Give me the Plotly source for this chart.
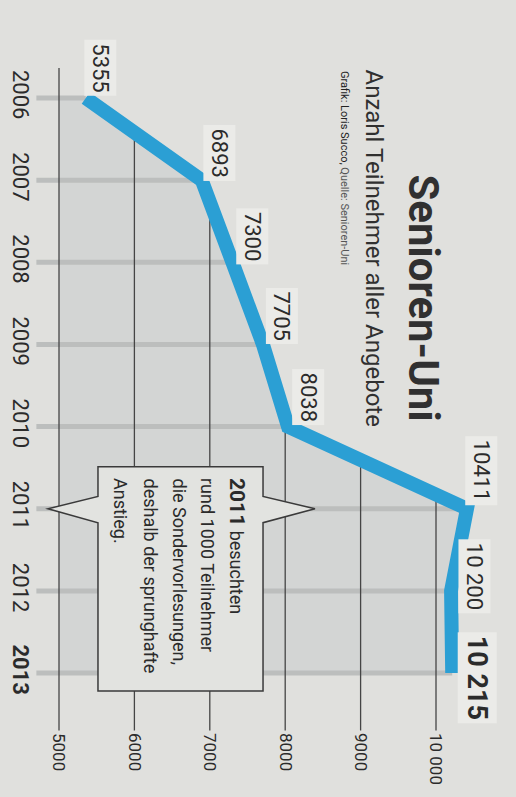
import numpy as np
import plotly.graph_objects as go

# ---------------- data ----------------
years = [2006, 2007, 2008, 2009, 2010, 2011, 2012, 2013]
values = [5355, 6893, 7300, 7705, 8038, 10411, 10200, 10215]
value_labels = ["5355", "6893", "7300", "7705", "8038", "10411", "10 200", "<b>10 215</b>"]
year_labels = ["2006", "2007", "2008", "2009", "2010", "2011", "2012", "<b>2013</b>"]
x_ticks = [5000, 6000, 7000, 8000, 9000, 10000]
x_tick_labels = ["5000", "6000", "7000", "8000", "9000", "10 000"]

title = "Senioren-Uni"
subtitle = "Anzahl Teilnehmer aller Angebote"
credit = "Grafik: Loris Succo, <span style='color:#555'>Quelle: Senioren-Uni</span>"
note_year = 2011
note_lines = ["<span style='font-size:21px'><b>2011</b></span> besuchten",
              "rund 1000 Teilnehmer",
              "die Sondervorlesungen,",
              "deshalb der sprunghafte",
              "Anstieg."]

# ---------------- style / layout ----------------
FONT = "Roboto, Liberation Sans, sans-serif"
PAPER = "#e0e0dd"
AREA = "#d3d5d4"
YEARLINE = "#bcbebd"
GRID = "#454545"
BLUE = "#2b9fd4"
TEXT = "#2b2b2b"
LABEL_BG = "#ebebe8"

W, H = 516, 797
ML, MR, MT, MB = 36, 23, 60, 65
PW, PH = W - ML - MR, H - MT - MB

XMIN, XMAX = 4695, 10756
YTOP, YBOT = 2005.537, 2013.718
GRID_TOP = 2005.635
GRID_BOT = 2013.70
YEARLINE_X0 = 4700


def px_x(px):
    return (px - ML) / PW


def px_y(py):
    return 1 - (py - MT) / PH


fig = go.Figure()

# area under the curve
fig.add_trace(go.Scatter(
    x=[x_ticks[0]] + values + [x_ticks[0]],
    y=[years[0]] + years + [years[-1]],
    fill="toself", fillcolor=AREA, mode="lines", line=dict(width=0),
    hoverinfo="skip", showlegend=False))

# year lines (from left edge to the curve)
yl_x, yl_y = [], []
for yr, v in zip(years, values):
    yl_x += [YEARLINE_X0, v, None]
    yl_y += [yr, yr, None]
fig.add_trace(go.Scatter(x=yl_x, y=yl_y, mode="lines",
                         line=dict(color=YEARLINE, width=5),
                         hoverinfo="skip", showlegend=False))

# value grid lines (below the curve only)
mono_v = values[:6]
mono_y = years[:6]
g_x, g_y = [], []
for v in x_ticks:
    if v <= values[0]:
        y0 = GRID_TOP
    else:
        y0 = float(np.interp(v, mono_v, mono_y))
    g_x += [v, v, None]
    g_y += [y0, GRID_BOT, None]
fig.add_trace(go.Scatter(x=g_x, y=g_y, mode="lines",
                         line=dict(color=GRID, width=1.3),
                         hoverinfo="skip", showlegend=False))

# the data line
fig.add_trace(go.Scatter(x=values, y=years, mode="lines",
                         line=dict(color=BLUE, width=14),
                         hoverinfo="skip", showlegend=False))

# value labels
offsets = [(15, 30), (18, 27), (20, 26), (19, 28), (20, 30), (14, 38), (23, 15), (25, -5)]
for v, yr, lab, (dx, dy) in zip(values, years, value_labels, offsets):
    size = 27 if lab.startswith("<b>") else 22
    fig.add_annotation(x=v, y=yr, xref="x", yref="y", text=lab, showarrow=False,
                       textangle=90, font=dict(family=FONT, size=size, color=TEXT),
                       bgcolor=LABEL_BG, borderpad=3, xshift=dx, yshift=dy,
                       xanchor="center", yanchor="middle")

# callout box
bx0, bx1, tipl, tipr = 5517, 7706, 4854, 8395
by0, bb1, bb2, by1 = note_year - 0.51, note_year - 0.15, note_year + 0.17, note_year + 2.22
path = (f"M {bx0},{by0} L {bx1},{by0} L {bx1},{bb1} L {tipr},{note_year} L {bx1},{bb2} "
        f"L {bx1},{by1} L {bx0},{by1} L {bx0},{bb2} L {tipl},{note_year} L {bx0},{bb1} Z")
fig.add_shape(type="path", path=path, xref="x", yref="y",
              fillcolor="#e2e3e0", line=dict(color="#3a3a3a", width=1.5), layer="above")
line_x_px = [237, 208, 179, 150, 121]
for txt, lx in zip(note_lines, line_x_px):
    fig.add_annotation(x=px_x(lx), y=px_y(476), xref="paper", yref="paper", text=txt,
                       showarrow=False, textangle=90,
                       font=dict(family=FONT, size=18, color=TEXT),
                       xanchor="center", yanchor="top")

# titles
fig.add_annotation(x=px_x(423), y=px_y(172), xref="paper", yref="paper", text=f"<b>{title}</b>",
                   showarrow=False, textangle=90, xanchor="center", yanchor="top",
                   font=dict(family=FONT, size=42, color="#303030"))
fig.add_annotation(x=px_x(373), y=px_y(67), xref="paper", yref="paper", text=subtitle,
                   showarrow=False, textangle=90, xanchor="center", yanchor="top",
                   font=dict(family=FONT, size=24, color="#303030"))
fig.add_annotation(x=px_x(344), y=px_y(69), xref="paper", yref="paper", text=credit,
                   showarrow=False, textangle=90, xanchor="center", yanchor="top",
                   font=dict(family=FONT, size=11, color="#222"))

fig.update_layout(
    width=W, height=H,
    margin=dict(l=ML, r=MR, t=MT, b=MB, autoexpand=False),
    paper_bgcolor=PAPER, plot_bgcolor=PAPER,
    xaxis=dict(range=[XMIN, XMAX], tickvals=x_ticks, ticktext=x_tick_labels,
               tickangle=90, showgrid=False, zeroline=False, showline=False,
               automargin=False, ticks="",
               tickfont=dict(family=FONT, size=17, color=TEXT)),
    yaxis=dict(range=[YBOT, YTOP], tickvals=years, ticktext=year_labels,
               tickangle=90, showgrid=False, zeroline=False, showline=False,
               automargin=False, ticks="",
               tickfont=dict(family=FONT, size=22, color=TEXT)),
)

fig.write_html("out.html")
